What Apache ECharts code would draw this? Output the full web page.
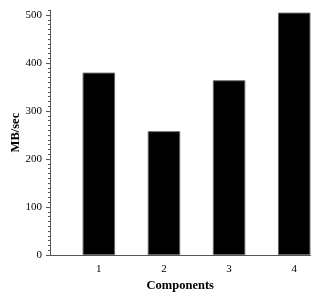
<!DOCTYPE html>
<html>
<head>
<meta charset="utf-8">
<script src="https://cdn.jsdelivr.net/npm/echarts@6/dist/echarts.min.js"></script>
<style>html,body{margin:0;padding:0;background:#fff}#c{width:320px;height:299px}</style>
</head>
<body>
<div id="c"></div>
<script>
var components = [1, 2, 3, 4];
var mbPerSec = [380, 258, 364, 505];
var yTickValues = [0, 100, 200, 300, 400, 500];
var xName = 'Components';
var yName = 'MB/sec';

var font = 'Liberation Serif';
var axisColor = '#555';
var chart = echarts.init(document.getElementById('c'));
chart.setOption({
  animation: false,
  grid: { left: 50, right: 9.5, top: 10.2, bottom: 44, containLabel: false, outerBoundsMode: 'none' },
  xAxis: {
    type: 'value', min: 0.25, max: 4.25,
    name: xName, nameLocation: 'middle', nameGap: 24, nameMoveOverlap: false,
    nameTextStyle: { fontFamily: font, fontWeight: 'bold', fontSize: 12.5, color: '#000' },
    axisLine: { show: true, lineStyle: { color: axisColor, width: 1 } },
    axisTick: { show: false },
    splitLine: { show: false },
    axisLabel: { customValues: components, fontFamily: font, fontSize: 11, color: '#000', margin: 9 }
  },
  yAxis: [{
    type: 'value', min: 0, max: 510, interval: 100,
    name: yName, nameLocation: 'middle', nameGap: 28, nameMoveOverlap: false,
    nameTextStyle: { fontFamily: font, fontWeight: 'bold', fontSize: 12.5, color: '#000' },
    axisLine: { show: true, lineStyle: { color: axisColor, width: 1 } },
    axisTick: { show: true, customValues: yTickValues, length: 4, lineStyle: { color: axisColor } },
    axisLabel: { customValues: yTickValues, fontFamily: font, fontSize: 11, color: '#000', margin: 8 },
    splitLine: { show: false }
  }, {
    type: 'value', min: 0, max: 510, interval: 10, position: 'left',
    axisLine: { show: false },
    axisTick: { show: true, length: 2, lineStyle: { color: axisColor } },
    axisLabel: { show: false },
    splitLine: { show: false }
  }],
  series: [{
    type: 'bar',
    barWidth: 32.5,
    data: components.map(function (c, i) { return [c, mbPerSec[i]]; }),
    itemStyle: { color: '#000', borderColor: '#666', borderWidth: 1 }
  }]
});
</script>
</body>
</html>
